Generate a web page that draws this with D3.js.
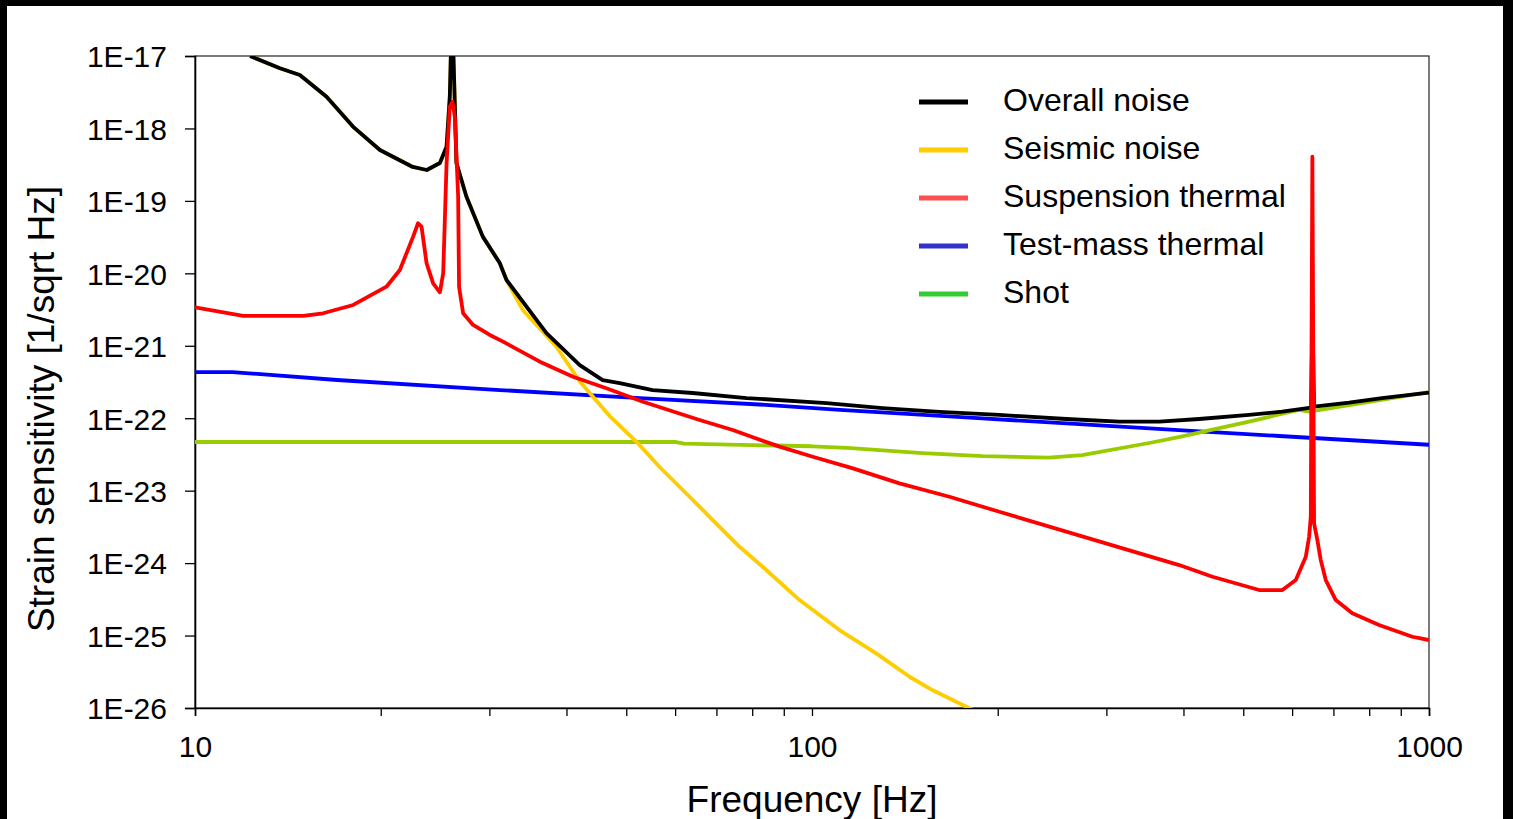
<!DOCTYPE html>
<html>
<head>
<meta charset="utf-8">
<script src="https://cdn.jsdelivr.net/npm/d3@7"></script>
<style>
  body { margin: 0; background: #000; }
  svg { display: block; font-family: "Liberation Sans", Arial, sans-serif; }
</style>
</head>
<body>
<svg id="chart" width="1513" height="819"></svg>
<script>
// values (frequency in Hz, strain in 1/sqrt Hz)
const overallFreq = [12.28, 13.73, 14.79, 16.34, 18.03, 19.94, 22.54, 23.75, 24.94, 25.57, 25.88, 26.1, 26.53, 27.54, 29.27, 31.18, 31.98, 37.12, 42.03, 45.79, 48.79, 55.17, 64.05, 78.33, 105.6, 130.1, 160.9, 201.2, 258.3, 314.7, 365.4, 424.1, 511, 578.1, 644, 647.5, 651, 742, 839, 1000]
const overallVal = [1e-17, 6.76e-18, 5.47e-18, 2.74e-18, 1.06e-18, 5.04e-19, 2.94e-19, 2.67e-19, 3.33e-19, 5.6e-19, 2.74e-18, 5e-17, 3.33e-19, 1.14e-19, 3.21e-20, 1.39e-20, 8.09e-21, 1.5e-21, 5.42e-22, 3.36e-22, 3.06e-22, 2.45e-22, 2.23e-22, 1.9e-22, 1.62e-22, 1.38e-22, 1.22e-22, 1.11e-22, 9.75e-23, 8.95e-23, 8.95e-23, 9.75e-23, 1.11e-22, 1.23e-22, 1.4e-22, 2.9e-21, 1.45e-22, 1.64e-22, 1.9e-22, 2.25e-22]

const seismicFreq = [12.28, 13.73, 14.79, 16.34, 18.03, 19.94, 22.54, 23.75, 24.94, 25.57, 25.88, 26.1, 26.53, 27.54, 29.27, 31.18, 31.98, 33.98, 38.53, 42.03, 47, 51.91, 56.62, 63.33, 68.23, 76.31, 84.31, 95.46, 110.8, 127.1, 143.9, 156.7, 177.8, 190]
const seismicVal = [1e-17, 6.76e-18, 5.47e-18, 2.74e-18, 1.06e-18, 5.04e-19, 2.94e-19, 2.67e-19, 3.33e-19, 5.6e-19, 2.74e-18, 5e-17, 3.33e-19, 1.14e-19, 3.21e-20, 1.39e-20, 8.09e-21, 3.12e-21, 9.71e-22, 3.21e-22, 1.07e-22, 4.76e-23, 2.12e-23, 8.24e-24, 4.36e-24, 1.68e-24, 8.02e-25, 3.09e-25, 1.19e-25, 5.68e-26, 2.7e-26, 1.77e-26, 1.04e-26, 8e-27]

const suspensionFreq = [10, 11.97, 14.98, 16.13, 18.05, 20.43, 21.48, 22.57, 22.99, 23.29, 23.73, 24.32, 24.94, 25.25, 25.57, 25.88, 26.14, 26.37, 26.7, 26.79, 27.2, 28.23, 30.05, 31.57, 36.22, 40.99, 46.42, 53.21, 65.73, 74.4, 88.58, 100.3, 116.5, 138.6, 167, 201.2, 393.7, 445.8, 530.5, 578.6, 608.3, 631.4, 639.3, 643.3, 647.1, 651.2, 659.3, 667.7, 680.3, 706.1, 751.2, 829.9, 939.7, 1000]
const suspensionVal = [3.4e-21, 2.58e-21, 2.58e-21, 2.81e-21, 3.66e-21, 6.54e-21, 1.11e-20, 3.21e-20, 4.91e-20, 4.41e-20, 1.38e-20, 7.28e-21, 5.47e-21, 1e-20, 3.3e-19, 2e-18, 2.34e-18, 1.45e-18, 1.14e-19, 6.53e-21, 2.81e-21, 1.94e-21, 1.41e-21, 1.14e-21, 6.03e-22, 3.74e-22, 2.59e-22, 1.69e-22, 9.44e-23, 6.87e-23, 4.05e-23, 2.94e-23, 2.03e-23, 1.26e-23, 8.24e-24, 5.12e-24, 9.4e-25, 6.48e-25, 4.25e-25, 4.25e-25, 5.83e-25, 1.22e-24, 2.31e-24, 4.36e-24, 4.07e-19, 3.54e-24, 2.08e-24, 1.1e-24, 5.83e-25, 3.09e-25, 2.03e-25, 1.4e-25, 9.63e-26, 8.67e-26]

const testMassFreq = [10, 11.5, 17, 31.2, 52.6, 85.3, 111, 183, 271, 393, 572, 1000]
const testMassVal = [4.34e-22, 4.34e-22, 3.37e-22, 2.45e-22, 1.9e-22, 1.52e-22, 1.3e-22, 1.01e-22, 8.3e-23, 6.87e-23, 5.68e-23, 4.3e-23]

const shotFreq = [10, 60, 62, 100, 114, 151, 189, 242, 274, 352, 393, 440, 511, 615, 640, 1000]
const shotVal = [4.7e-23, 4.7e-23, 4.45e-23, 4.1e-23, 3.9e-23, 3.3e-23, 3e-23, 2.85e-23, 3.1e-23, 4.55e-23, 5.5e-23, 6.8e-23, 9e-23, 1.3e-22, 1.23e-22, 2.3e-22]

const legendNames = ['Overall noise', 'Seismic noise', 'Suspension thermal', 'Test-mass thermal', 'Shot']
const legendColors = ['#000000', '#ffcc00', '#ff5050', '#3333cc', '#33cc33']

const xTicks = [10, 20, 30, 40, 50, 60, 70, 80, 90, 100, 200, 300, 400, 500, 600, 700, 800, 900, 1000]
const yTicks = [1e-17, 1e-18, 1e-19, 1e-20, 1e-21, 1e-22, 1e-23, 1e-24, 1e-25, 1e-26]

const svg = d3.select('#chart')
const plotLeft = 195, plotRight = 1429, plotTop = 56, plotBottom = 708
const lineWidth = 3.8

// white page with the black frame round it
svg.append('rect').attr('x', 0).attr('y', 0).attr('width', 1513).attr('height', 819).attr('fill', '#000')
svg.append('rect').attr('x', 7).attr('y', 6).attr('width', 1496).attr('height', 813).attr('fill', '#fff')

const xScale = d3.scaleLog().domain([10, 1000]).range([plotLeft, plotRight])
const yScale = d3.scaleLog().domain([1e-26, 1e-17]).range([plotBottom, plotTop])

svg.append('clipPath').attr('id', 'plotClip')
  .append('rect')
    .attr('x', plotLeft).attr('y', plotTop)
    .attr('width', plotRight - plotLeft).attr('height', plotBottom - plotTop)

// plot frame
svg.append('rect')
  .attr('x', plotLeft).attr('y', plotTop)
  .attr('width', plotRight - plotLeft).attr('height', plotBottom - plotTop)
  .attr('fill', 'none').attr('stroke', '#222').attr('stroke-width', 1.2)

const xAxis = d3.axisBottom(xScale)
  .tickValues(xTicks)
  .tickSize(8)
  .tickPadding(20)
  .tickFormat(d => [10, 100, 1000].includes(d) ? d : '')

const yAxis = d3.axisLeft(yScale)
  .tickValues(yTicks)
  .tickSize(10)
  .tickPadding(18)
  .tickFormat(d => '1E' + Math.round(Math.log10(d)))

const gx = svg.append('g').attr('transform', `translate(0, ${plotBottom})`).call(xAxis)
const gy = svg.append('g').attr('transform', `translate(${plotLeft}, 0)`).call(yAxis)

svg.selectAll('path.domain').style('stroke', '#000').style('stroke-width', 1.6)
svg.selectAll('.tick line').style('stroke', '#000').style('stroke-width', 1.3)
svg.selectAll('.tick text')
  .style('font-family', '"Liberation Sans", Arial, sans-serif')
  .style('font-size', '30px')
  .style('fill', '#000')
gx.selectAll('.tick text').attr('dy', '0.71em')
gy.selectAll('.tick text').attr('dy', '0.36em')

const line = d3.line()
  .x(d => xScale(d[0]))
  .y(d => yScale(d[1]))

const series = [
  { freq: testMassFreq, val: testMassVal, color: '#0000ff' },
  { freq: shotFreq, val: shotVal, color: '#99cc00' },
  { freq: seismicFreq, val: seismicVal, color: '#ffcc00' },
  { freq: overallFreq, val: overallVal, color: '#000000' },
  { freq: suspensionFreq, val: suspensionVal, color: '#ff0000' }
]

svg.append('g')
  .attr('clip-path', 'url(#plotClip)')
  .selectAll('path.curve')
  .data(series)
  .enter()
  .append('path')
    .attr('class', 'curve')
    .attr('d', d => line(d3.zip(d.freq, d.val)))
    .attr('fill', 'none')
    .attr('stroke', d => d.color)
    .attr('stroke-width', lineWidth)
    .attr('stroke-linejoin', 'round')

// legend
const legend = svg.append('g').attr('transform', 'translate(919, 102)')
const legendRows = legend.selectAll('g.row')
  .data(legendNames)
  .enter()
  .append('g')
    .attr('class', 'row')
    .attr('transform', (d, i) => `translate(0, ${i * 48})`)

legendRows.append('line')
  .attr('x1', 0).attr('x2', 49)
  .attr('y1', 0).attr('y2', 0)
  .attr('stroke', (d, i) => legendColors[i])
  .attr('stroke-width', 5)

legendRows.append('text')
  .attr('x', 84).attr('y', -2).attr('dy', '0.35em')
  .text(d => d)
  .style('font-size', '32px')
  .style('fill', '#000')

// axis titles
svg.append('text')
  .attr('x', (plotLeft + plotRight) / 2).attr('y', 812)
  .attr('text-anchor', 'middle')
  .style('font-size', '37px')
  .text('Frequency [Hz]')

svg.append('text')
  .attr('transform', `translate(54, ${(plotTop + plotBottom) / 2 + 27}) rotate(-90)`)
  .attr('text-anchor', 'middle')
  .style('font-size', '37px')
  .text('Strain sensitivity [1/sqrt Hz]')
</script>
</body>
</html>
